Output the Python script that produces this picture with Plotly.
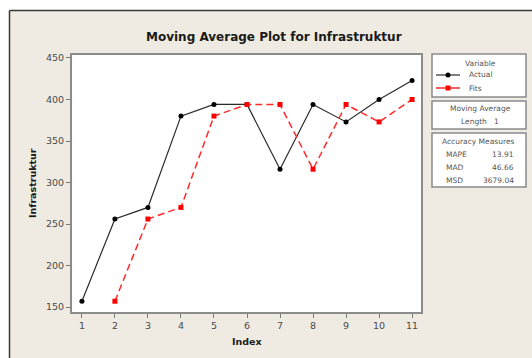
import plotly.graph_objects as go

# ---------------- data ----------------
index = list(range(1, 12))
actual = [157, 256, 270, 380, 394, 394, 316, 394, 373, 400, 423]
fits = [None, 157, 256, 270, 380, 394, 394, 316, 394, 373, 400]
x_ticks = list(range(1, 12))
y_ticks = [150, 200, 250, 300, 350, 400, 450]
series_names = ["Actual", "Fits"]

title_text = "Moving Average Plot for Infrastruktur"
x_title = "Index"
y_title = "Infrastruktur"
legend_title = "Variable"
ma_title = "Moving Average"
ma_length = 1
acc_title = "Accuracy Measures"
acc_names = ["MAPE", "MAD", "MSD"]
acc_values = ["13.91", "46.66", "3679.04"]

# ---------------- layout helpers ----------------
W, H = 532, 358
L, R, T, B = 72, 421, 55, 312
FONT = "DejaVu Sans"
BEIGE = "#efebe2"


def px(x):
    return (x - L) / (R - L)


def py(y):
    return (B - y) / (B - T)


fig = go.Figure()
fig.add_trace(go.Scatter(
    x=index, y=actual, name=series_names[0], mode="lines+markers",
    line=dict(color="#2a2a2a", width=1.2),
    marker=dict(symbol="circle", size=5, color="#000000"),
    showlegend=False))
fig.add_trace(go.Scatter(
    x=index, y=fits, name=series_names[1], mode="lines+markers",
    line=dict(color="#ff2a2a", width=1.5, dash="7px,4px"),
    marker=dict(symbol="square", size=5, color="#ff0000"),
    showlegend=False))

shapes = []
# white outer strips + dark window border
shapes.append(dict(type="rect", xref="paper", yref="paper", x0=px(-5), x1=px(540),
                   y0=py(10), y1=py(-5), fillcolor="white", line=dict(width=0)))
shapes.append(dict(type="rect", xref="paper", yref="paper", x0=px(-5), x1=px(9),
                   y0=py(365), y1=py(-5), fillcolor="white", line=dict(width=0)))
shapes.append(dict(type="line", xref="paper", yref="paper", x0=px(9.5), x1=px(540),
                   y0=py(10.5), y1=py(10.5), line=dict(color="#3a3a3a", width=1.5)))
shapes.append(dict(type="line", xref="paper", yref="paper", x0=px(9.5), x1=px(9.5),
                   y0=py(10.5), y1=py(365), line=dict(color="#3a3a3a", width=1.5)))

# legend / info boxes
BX0, BX1 = 432, 526
for (y0, y1) in [(54, 97), (101, 129), (133, 187)]:
    shapes.append(dict(type="rect", xref="paper", yref="paper", x0=px(BX0), x1=px(BX1),
                       y0=py(y1), y1=py(y0), fillcolor="white",
                       line=dict(color="#8a8a8a", width=1.5)))
# legend keys
shapes.append(dict(type="line", xref="paper", yref="paper", x0=px(436), x1=px(460),
                   y0=py(75), y1=py(75), line=dict(color="#2a2a2a", width=1.2)))
shapes.append(dict(type="circle", xref="paper", yref="paper", x0=px(445.5), x1=px(450.5),
                   y0=py(77.5), y1=py(72.5), fillcolor="black", line=dict(width=0)))
shapes.append(dict(type="line", xref="paper", yref="paper", x0=px(436), x1=px(460),
                   y0=py(88), y1=py(88), line=dict(color="#ff2a2a", width=1.5)))
shapes.append(dict(type="rect", xref="paper", yref="paper", x0=px(445.5), x1=px(450.5),
                   y0=py(90.5), y1=py(85.5), fillcolor="#ff0000", line=dict(width=0)))

ann = []


def text(x, y, s, size=7.5, color="#555555", xanchor="left", bold=False, angle=0):
    ann.append(dict(x=px(x), y=py(y), xref="paper", yref="paper", text=("<b>%s</b>" % s) if bold else s,
                    showarrow=False, xanchor=xanchor, yanchor="middle", textangle=angle,
                    font=dict(family=FONT, size=size, color=color)))


text(274, 37, title_text, size=12, color="#1a1a1a", xanchor="center", bold=True)
text(247, 341, x_title, size=9.5, color="#1a1a1a", xanchor="center", bold=True)
text(32, 183, y_title, size=9.5, color="#1a1a1a", xanchor="center", bold=True, angle=-90)

text(480, 63, legend_title, xanchor="center")
text(467, 75, series_names[0])
text(467, 88, series_names[1])
text(480, 108, ma_title, xanchor="center")
text(474, 121, "Length", xanchor="center")
text(496, 121, str(ma_length), xanchor="center")
text(479, 141, acc_title, xanchor="center")
for i, (n, v) in enumerate(zip(acc_names, acc_values)):
    yy = 154 + i * 13
    text(444, yy, n)
    text(516, yy, v, xanchor="right")

axis_common = dict(showgrid=False, zeroline=False, showline=True, mirror=True,
                   linecolor="#8c8c8c", linewidth=2, ticks="outside", ticklen=4,
                   tickcolor="#777777", tickwidth=1,
                   tickfont=dict(family=FONT, size=9.5, color="#4a4a4a"))

fig.update_layout(
    width=W, height=H,
    margin=dict(l=L, r=W - R, t=T, b=H - B, pad=0),
    paper_bgcolor=BEIGE, plot_bgcolor="white",
    xaxis=dict(range=[0.70, 11.27], tickmode="array", tickvals=x_ticks,
               ticktext=[str(v) for v in x_ticks], **axis_common),
    yaxis=dict(range=[144, 453.6], tickmode="array", tickvals=y_ticks,
               ticktext=[str(v) for v in y_ticks], **axis_common),
    shapes=shapes, annotations=ann, showlegend=False,
)

fig.write_html("out.html", config={"displayModeBar": False},
               post_script="document.body.style.margin='0px';document.body.style.overflow='hidden';")
